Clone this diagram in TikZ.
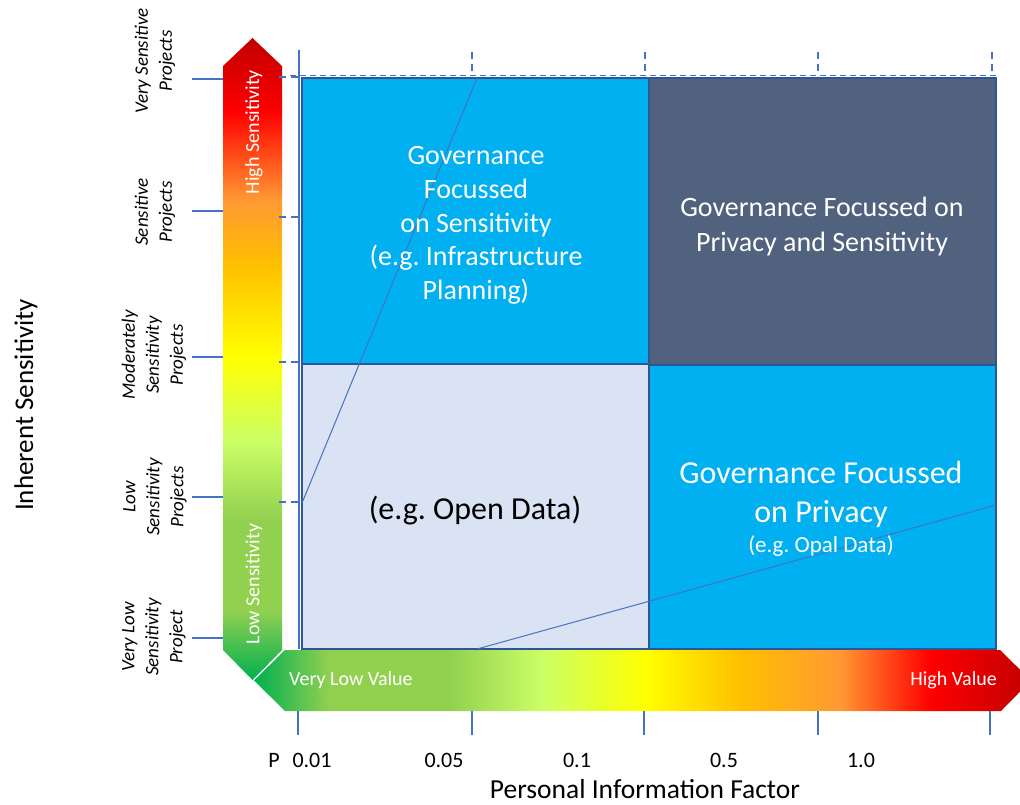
\documentclass[tikz,border=0pt]{standalone}
\usepackage{fontspec}
\setmainfont{Carlito}
\frenchspacing
\newcommand\fsz[2]{\fontsize{#1}{#2}\selectfont}
\definecolor{bfill}{RGB}{0,176,240}
\definecolor{dfill}{RGB}{80,98,126}
\definecolor{lfill}{RGB}{218,227,243}
\definecolor{bord}{RGB}{47,85,151}
\definecolor{tickblue}{RGB}{68,114,196}
\pgfdeclarehorizontalshading{hvalue}{100bp}{
  rgb(0bp)=(0,0.690,0.314);
  rgb(25bp)=(0,0.690,0.314);
  rgb(29.89bp)=(0.573,0.816,0.314);
  rgb(37.61bp)=(0.573,0.816,0.314);
  rgb(43.60bp)=(0.8,1,0.4);
  rgb(50.16bp)=(1,1,0);
  rgb(56.27bp)=(1,0.753,0);
  rgb(62.71bp)=(1,0.6,0.2);
  rgb(68.50bp)=(1,0,0);
  rgb(75bp)=(0.753,0,0);
  rgb(100bp)=(0.753,0,0)}
\pgfdeclareverticalshading{vsens}{100bp}{
  rgb(0bp)=(0,0.690,0.314);
  rgb(25bp)=(0,0.690,0.314);
  rgb(30.45bp)=(0.573,0.816,0.314);
  rgb(37.46bp)=(0.573,0.816,0.314);
  rgb(43.69bp)=(0.8,1,0.4);
  rgb(50.16bp)=(1,1,0);
  rgb(57.32bp)=(1,0.753,0);
  rgb(62.38bp)=(1,0.6,0.2);
  rgb(69.24bp)=(1,0,0);
  rgb(75bp)=(0.753,0,0);
  rgb(100bp)=(0.753,0,0)}
\begin{document}
\begin{tikzpicture}[x=1pt,y=1pt,
  tickline/.style={draw=tickblue, line width=1.2pt},
  dtick/.style={draw=tickblue, line width=1.5pt, dash pattern=on 7pt off 5pt},
  quad/.style={draw=bord, line width=2.5pt},
  diag/.style={draw=tickblue, line width=1pt},
  wtxt/.style={text=white, inner sep=0pt, align=center},
  lab/.style={rotate=90, align=center, inner sep=0pt, font=\itshape\fsz{19}{24}},
  axlab/.style={inner sep=0pt, font=\fsz{22}{26}},
]
\useasboundingbox (0,0) rectangle (1020,-804);
\clip (0,0) rectangle (1020,-804);

% vertical gradient arrow
\path[shading=vsens] (223,-66) -- (252.5,-38) -- (282,-66) -- (282,-650) -- (252.5,-680) -- (223,-650) -- cycle;

% horizontal gradient arrow
\path[shading=hvalue] (285,-650) -- (1000,-650) -- (1031,-680.5) -- (1001,-711) -- (285,-711) -- (254,-680.5) -- cycle;

% axis lines and ticks
\draw[tickline] (299,-50) -- (299,-649);
\foreach \yy in {79,211,357,497,638} \draw[tickline] (192,-\yy) -- (223,-\yy);
\foreach \yy in {77,217,362,502} \draw[dtick] (279,-\yy) -- (300,-\yy);
\foreach \xx in {298,472,644,818,990} \draw[tickline] (\xx,-711) -- (\xx,-735);

% quadrants
\fill[bfill] (302,-78) rectangle (649,-364);
\fill[dfill] (649,-78) rectangle (996,-365);
\fill[lfill] (302,-364) rectangle (649,-649);
\fill[bfill] (649,-365) rectangle (996,-649);
\draw[quad] (302,-78) rectangle (649,-364);
\draw[quad] (649,-78) rectangle (996,-365);
\draw[quad] (302,-364) rectangle (649,-649);
\draw[quad] (649,-365) rectangle (996,-649);

% top dashed grid marks
\draw[dtick, dash pattern=on 6pt off 4pt] (290,-75.5) -- (996,-75.5);
\foreach \xx in {472,645,818,992} \draw[dtick, dash pattern=on 7pt off 5pt] (\xx,-52) -- (\xx,-76);

% diagonal trend lines
\coordinate (d1a) at (302,-503);
\coordinate (d1b) at (477,-78);
\coordinate (d2a) at (477,-649);
\coordinate (d2b) at (996,-505);
\draw[diag] (d1a) -- (d1b);
\draw[diag] (d2a) -- (d2b);

% arrow labels
\node[wtxt, rotate=90, font=\fsz{20}{24}] (hs) at (254,-132) {High Sensitivity};
\node[wtxt, rotate=90, font=\fsz{20}{24}] (ls) at (254,-584) {Low Sensitivity};
\node[wtxt, anchor=west, font=\fsz{20}{24}] (vlv) at (289,-680) {Very Low Value};
\node[wtxt, anchor=east, font=\fsz{20}{24}] (hv) at (997,-680) {High Value};

% left category labels
\node[lab] (l1) at (155,-61) {Very Sensitive\\Projects};
\node[lab] (l2) at (155,-212) {Sensitive\\Projects};
\node[lab] (l3) at (154,-355) {Moderately\\Sensitivity\\Projects};
\node[lab] (l4) at (155,-497) {Low\\Sensitivity\\Projects};
\node[lab] (l5) at (154,-637) {Very Low\\Sensitivity\\Project};
\node[rotate=90, inner sep=0pt, font=\fsz{27}{32}] (ylab) at (26,-405) {Inherent Sensitivity};

% bottom axis labels
\node[axlab, anchor=base] (p) at (274,-767) {P};
\node[axlab, anchor=base] (x1) at (312,-767) {0.01};
\node[axlab, anchor=base] (x2) at (444,-767) {0.05};
\node[axlab, anchor=base] (x3) at (577,-767) {0.1};
\node[axlab, anchor=base] (x4) at (724,-767) {0.5};
\node[axlab, anchor=base] (x5) at (861,-767) {1.0};
\node[inner sep=0pt, anchor=base, font=\fsz{27.5}{32}] (xlab) at (645,-798) {Personal Information Factor};

% quadrant texts
\node[wtxt, font=\fsz{28}{33.6}] (tl) at (476,-225.5) {Governance\\Focussed\\on Sensitivity\\(e.g. Infrastructure\\Planning)};
\node[wtxt, font=\fsz{28}{35}] (tr) at (822,-227) {Governance Focussed on\\Privacy and Sensitivity};
\node[inner sep=0pt, font=\fsz{32}{38}] (bl) at (475,-511) {(e.g. Open Data)};
\node[wtxt, font=\fsz{32}{39}] (br) at (821,-494.5) {Governance Focussed\\on Privacy};
\node[wtxt, font=\fsz{23}{28}] (brs) at (821,-546) {(e.g. Opal Data)};
\end{tikzpicture}
\end{document}
